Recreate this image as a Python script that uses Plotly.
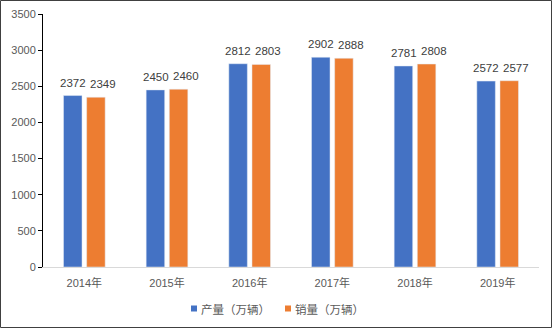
import plotly.graph_objects as go

categories = ["2014年", "2015年", "2016年", "2017年", "2018年", "2019年"]
production = [2372, 2450, 2812, 2902, 2781, 2572]
sales = [2349, 2460, 2803, 2888, 2808, 2577]
y_ticks = [0, 500, 1000, 1500, 2000, 2500, 3000, 3500]
series_names = ["产量（万辆）", "销量（万辆）"]
colors = ["#4472C4", "#ED7D31"]

W, H = 552, 328
ml, mr, mt, mb = 43, 13, 14, 61
pw, ph = W - ml - mr, H - mt - mb

font = "Liberation Sans, Arial, Noto Sans CJK SC, sans-serif"
cjk = "Noto Sans CJK SC, sans-serif"

def px_x(p):
    return (p - ml) / pw

def px_y(p):
    return (H - mb - p) / ph

fig = go.Figure()
for name, vals, col in zip(series_names, [production, sales], colors):
    fig.add_trace(go.Bar(x=categories, y=vals, name=name, marker_color=col,
                         showlegend=False, hoverinfo="x+y"))

# label horizontal offsets (px) relative to category centre, per series
label_shift = [-11.5, 18.5]
annotations = []
for vals, xshift in zip([production, sales], label_shift):
    for c, v in zip(categories, vals):
        annotations.append(dict(x=c, y=v, text=str(v), showarrow=False, xshift=xshift,
                                yanchor="bottom", yshift=5,
                                font=dict(size=11.5, color="#404040", family=font)))

# manual legend
legend_sq = [191, 285]
legend_tx = [199, 293]
legend_y = 308.5
shapes = []
for name, col, sx, tx in zip(series_names, colors, legend_sq, legend_tx):
    shapes.append(dict(type="rect", xref="paper", yref="paper",
                       x0=px_x(sx), x1=px_x(sx + 6), y0=px_y(legend_y + 3), y1=px_y(legend_y - 3),
                       line=dict(width=0), fillcolor=col))
    annotations.append(dict(xref="paper", yref="paper", x=px_x(tx), y=px_y(legend_y),
                            xanchor="left", yanchor="middle", text=name, showarrow=False,
                            font=dict(size=11.5, color="#595959", family=cjk)))

shapes.append(dict(type="rect", xref="paper", yref="paper",
                   x0=(0.5 - ml) / pw, x1=(W - 0.5 - ml) / pw,
                   y0=-(mb - 0.5) / ph, y1=1 + (mt - 0.5) / ph,
                   line=dict(color="#404040", width=1), fillcolor="rgba(0,0,0,0)", layer="above"))

fig.update_layout(
    width=W, height=H,
    margin=dict(l=ml, r=mr, t=mt, b=mb, autoexpand=False),
    paper_bgcolor="white", plot_bgcolor="white",
    font=dict(family=font, size=11, color="#595959"),
    barmode="group", bargap=0.44, bargroupgap=0.2,
    showlegend=False,
    xaxis=dict(showline=True, linecolor="#D9D9D9", linewidth=1, ticks="outside",
               ticklen=6, tickcolor="rgba(0,0,0,0)",
               tickfont=dict(size=11, color="#595959", family=font), showgrid=False),
    yaxis=dict(range=[0, 3500], tickvals=y_ticks, showline=True, linecolor="#000000",
               linewidth=1, ticks="outside", ticklen=4, tickcolor="#000000",
               showgrid=False, zeroline=False, tickfont=dict(size=11, color="#595959")),
    annotations=annotations,
    shapes=shapes,
)

fig.write_html("out.html")
